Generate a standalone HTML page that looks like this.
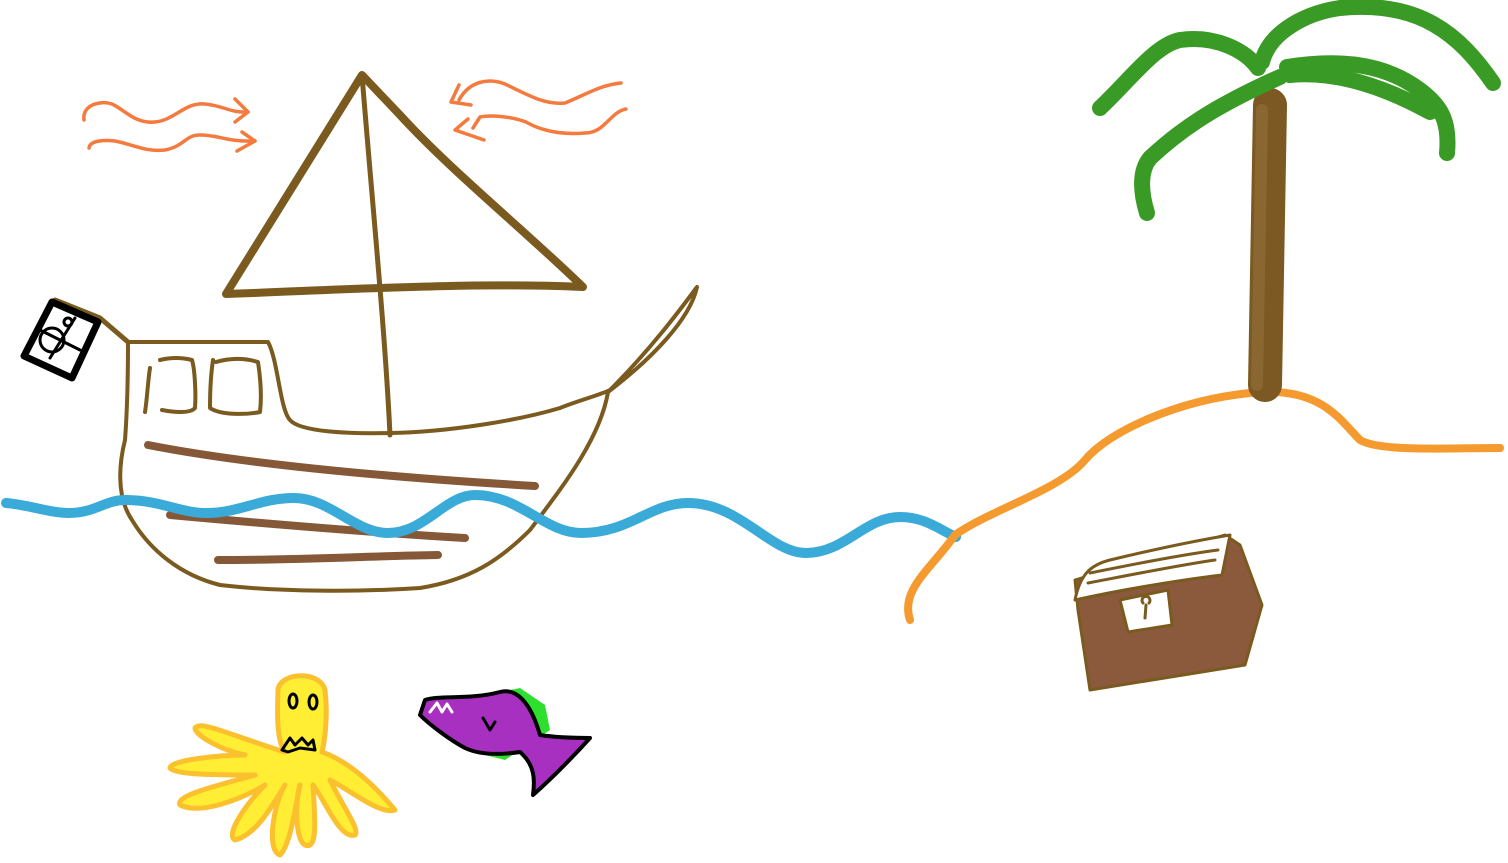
<!DOCTYPE html>
<html><head><meta charset="utf-8"><style>html,body{margin:0;padding:0;background:#fff}svg{display:block}</style></head>
<body>
<svg width="1508" height="863" viewBox="0 0 1508 863" xmlns="http://www.w3.org/2000/svg" fill="none" stroke-linecap="round" stroke-linejoin="round">
<!-- wind -->
<g stroke="#f47a3e" stroke-width="3.5">
<path d="M84,120 C82,105 100,100 112,104 C125,110 135,124 155,122 C175,120 185,102 205,104 C225,106 230,113 248,112"/><path d="M235,99 L248,112 L235,122"/>
<path d="M89,148 C90,140 105,140 115,141 C135,145 145,152 165,150 C185,146 185,135 200,135 C220,135 225,142 255,141"/><path d="M242,132 L255,141 L237,151"/>
<path d="M621,83 C600,85 585,95 565,103 C545,105 530,96 505,84 C490,78 470,80 459,100"/><path d="M459,85 L451,102 L471,105"/>
<path d="M626,109 C610,112 605,133 585,133 C560,135 540,130 526,122 C510,116 490,115 480,117 L473,128"/><path d="M468,119 L455,130 L484,140"/>
</g>
<!-- sail -->
<path d="M362,75 L226,294 C340,290 470,282 583,287 C530,235 450,170 400,115 Z" stroke="#7a5a1e" stroke-width="8"/>
<path d="M362,75 C372,200 385,330 390,435" stroke="#7a5a1e" stroke-width="5"/>
<!-- flag -->
<path d="M55,300 L100,318 L128,342" stroke="#7a5a1e" stroke-width="5"/>
<path d="M52,302 L98,322 L72,378 L24,356 Z" fill="#fff" stroke="#000" stroke-width="7"/>
<g stroke="#000" stroke-width="3"><circle cx="52" cy="340" r="12"/><path d="M40,330 L80,350 M50,358 L75,318"/><circle cx="68" cy="322" r="4"/></g>
<!-- hull -->
<g stroke="#7a5a1e" stroke-width="4">
<path d="M128,342 L268,342 C278,360 280,410 290,420 C300,432 350,434 390,433 C450,432 520,420 560,408 C580,400 600,395 610,390 C650,350 680,310 697,287 C690,320 650,360 608,392 C600,440 560,490 530,530 C500,560 470,580 420,588 C360,592 280,592 220,585 C180,575 150,550 132,520 C115,495 120,460 125,440 C128,400 128,360 128,342 Z"/>
<path d="M150,368 C148,380 147,400 145,412 M162,410 C172,412 190,414 195,408 C196,395 195,370 192,360 C180,357 168,358 160,360"/>
<path d="M213,360 C210,380 210,400 210,408 C220,415 245,415 260,412 C262,395 260,375 258,362 C245,358 230,358 216,362"/>
</g>
<g stroke="#855838" stroke-width="8">
<path d="M148,445 C250,465 400,478 535,486"/><path d="M170,515 C280,525 380,533 465,538"/><path d="M218,560 C300,560 370,556 438,555"/>
</g>
<!-- water -->
<path d="M6,503 C30,505 50,513 69,513 C95,513 105,500 125,500 C160,500 180,513 206,513 C240,513 260,498 294,498 C330,498 355,533 388,533 C425,533 445,495 475,495 C520,495 545,533 581,533 C630,533 650,503 688,503 C740,503 770,553 806,553 C845,553 865,517 900,517 C925,517 940,530 956,537" stroke="#3aaad8" stroke-width="10"/>
<!-- island -->
<path d="M910,620 C900,590 930,570 955,535 C990,510 1060,490 1085,460 C1110,430 1180,400 1250,393 C1320,385 1340,420 1360,440 C1380,452 1450,448 1500,448" stroke="#f59a2e" stroke-width="8"/>
<!-- palm -->
<path d="M1270,105 L1265,385" stroke="#7c5822" stroke-width="34"/>
<path d="M1262,110 L1257,385" stroke="#8a6630" stroke-width="12"/>
<g stroke="#3a9a26" stroke-width="16">
<path d="M1100,108 C1130,80 1155,45 1180,40 C1215,35 1245,50 1258,68"/>
<path d="M1262,62 C1270,30 1310,12 1340,8 C1420,0 1460,35 1493,83"/>
<path d="M1147,213 C1140,190 1140,170 1150,158 C1180,130 1213,107 1280,77"/>
<path d="M1287,67 C1330,60 1380,60 1420,90 C1440,105 1450,120 1447,153"/>
<path d="M1290,75 C1340,70 1390,90 1430,112"/>
</g>
<!-- chest -->
<path d="M1078,610 L1090,690 L1245,665 L1262,605 L1240,545 L1225,535 L1075,580 Z" fill="#8b5a3c" stroke="#7a5a1e" stroke-width="3"/>
<path d="M1075,600 C1080,575 1090,565 1110,560 C1160,548 1200,540 1230,535 L1222,575 C1180,580 1120,590 1075,600 Z" fill="#fff" stroke="#7a5a1e" stroke-width="3"/>
<path d="M1088,583 C1130,575 1180,565 1215,560 M1090,573 C1130,565 1180,555 1218,550" stroke="#7a5a1e" stroke-width="3"/>
<path d="M1120,600 L1168,590 L1172,625 L1128,632 Z" fill="#fff" stroke="#7a5a1e" stroke-width="3"/>
<path d="M1145,618 L1146,605 M1143,603 a4,4 0 1 1 6,0" stroke="#7a5a1e" stroke-width="3"/>
<!-- octopus -->
<g fill="#ffee33" stroke="#fbc02d" stroke-width="5">
<path d="M285,752 C275,740 278,700 278,690 C280,672 320,670 325,690 C328,715 325,740 322,752 C345,760 370,780 395,810 C380,815 350,790 330,780 C345,810 360,830 355,835 C340,840 325,800 313,785 C315,820 318,850 305,845 C295,840 295,800 300,785 C295,810 290,845 280,855 C265,850 275,800 285,785 C270,810 255,835 235,840 C225,835 245,805 265,785 C240,800 200,815 180,805 C175,795 220,785 255,775 C220,775 175,775 170,768 C170,760 220,755 245,755 C220,750 195,735 195,728 C200,720 230,735 285,752 Z"/>
</g>
<g stroke="#000" stroke-width="3"><ellipse cx="293" cy="701" rx="4" ry="7"/><ellipse cx="313" cy="702" rx="4" ry="7"/><path d="M282,750 L290,738 L295,745 L302,738 L308,745 L313,740 L315,750 L300,748 L288,752 Z"/></g>
<!-- fish -->
<path d="M500,692 L520,688 L545,705 L550,730 L505,760 L485,755 Z" fill="#2ee02e"/>
<path d="M425,700 C440,695 470,700 500,692 C515,688 530,700 540,735 C560,738 580,738 590,738 C570,760 550,780 533,795 C535,780 535,765 520,752 C500,755 480,755 465,748 C450,740 430,725 420,715 Z" fill="#a830c0" stroke="#000" stroke-width="4"/>
<path d="M430,712 L437,703 L442,712 L447,704 L452,712" stroke="#fff" stroke-width="3"/>
<path d="M483,718 L490,730 L495,722" stroke="#000" stroke-width="3"/>
</svg>
</body></html>
